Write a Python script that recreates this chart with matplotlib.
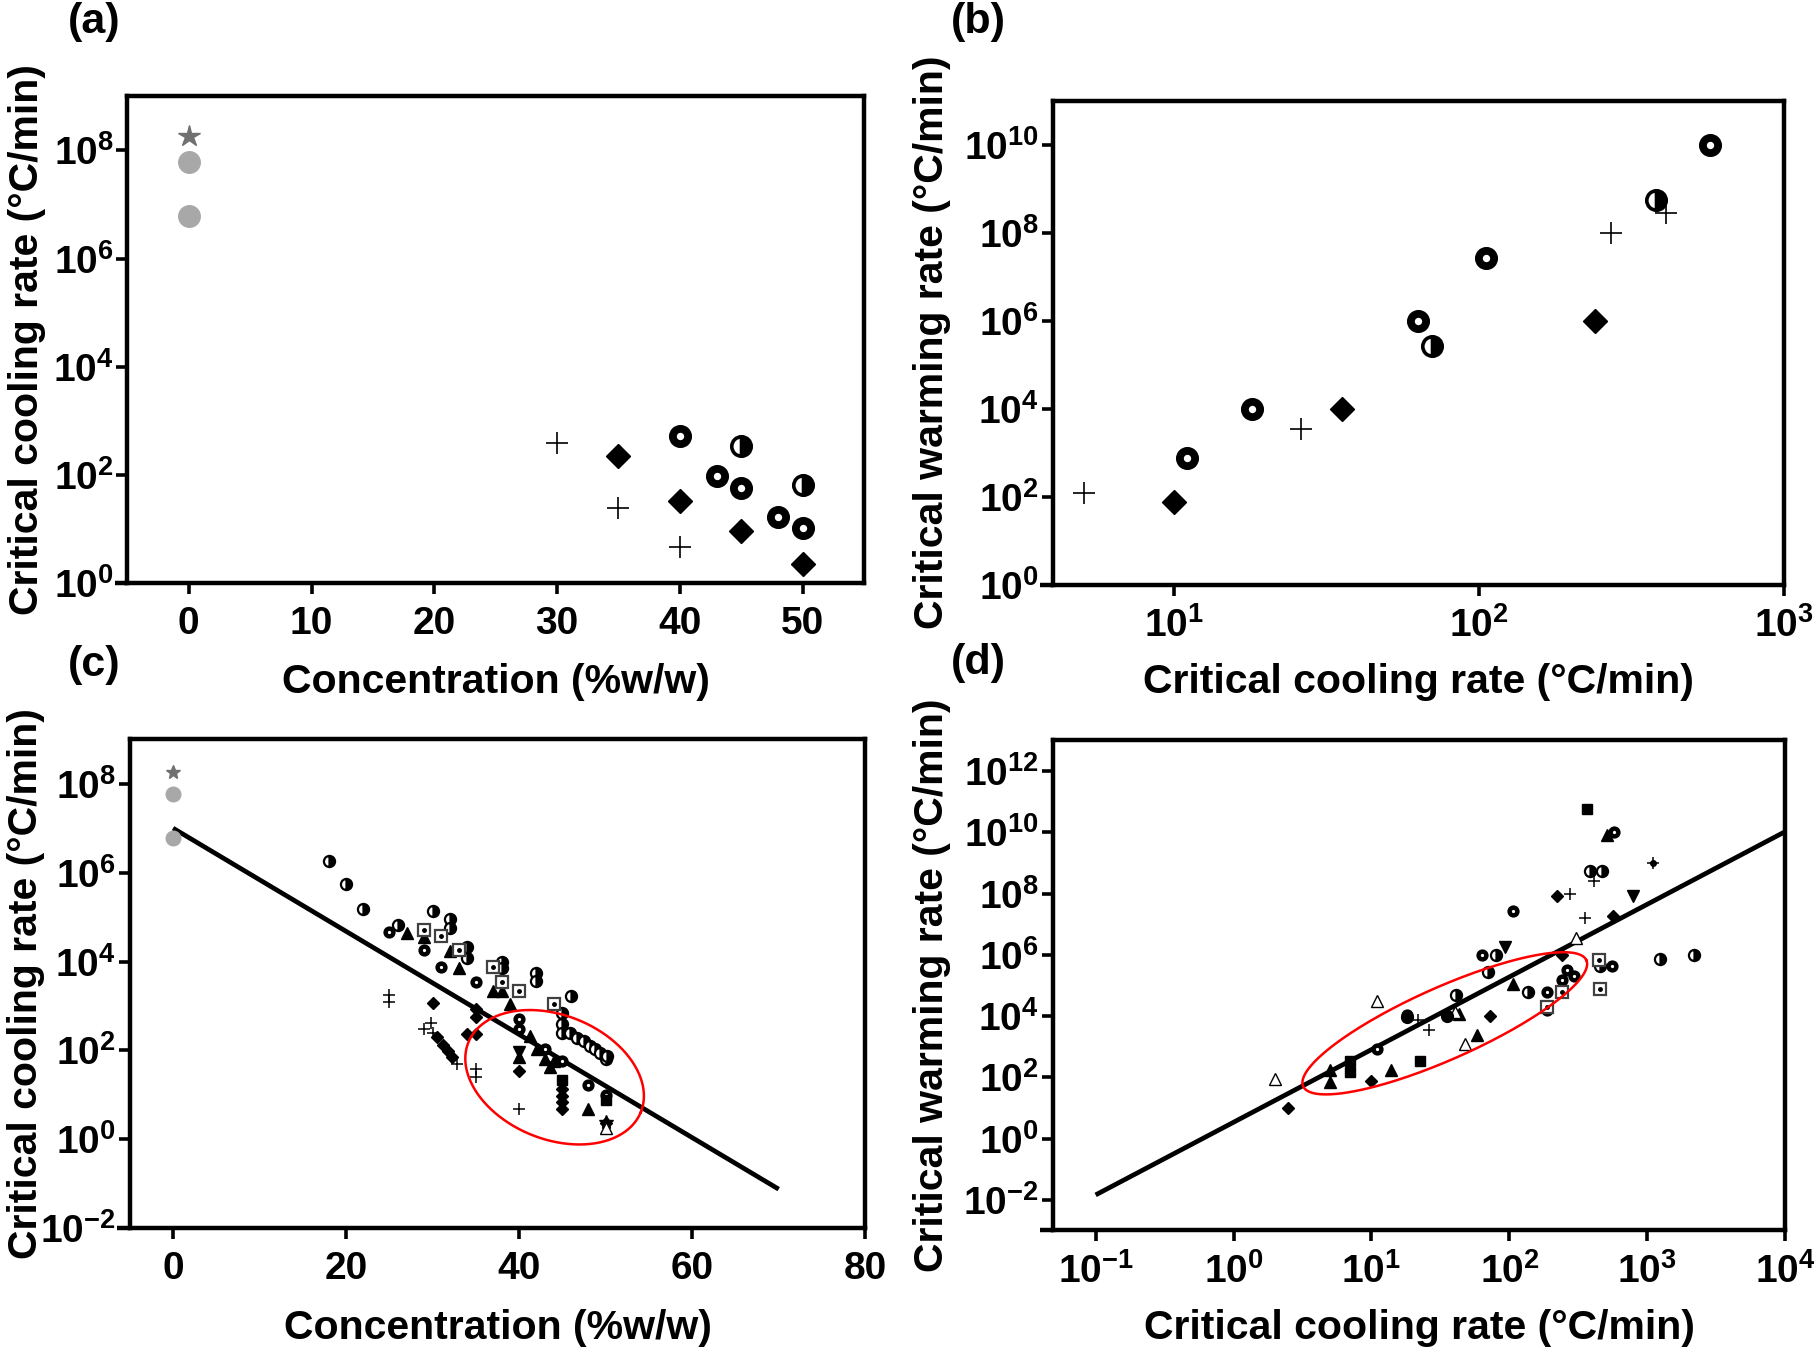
import numpy as np
import matplotlib
matplotlib.use('Agg')
import matplotlib.pyplot as plt
from matplotlib.ticker import FixedLocator, FuncFormatter, NullLocator

plt.rcParams['font.family'] = ['Liberation Sans', 'DejaVu Sans']
plt.rcParams['font.weight'] = 'bold'
plt.rcParams['mathtext.fontset'] = 'custom'
plt.rcParams['mathtext.rm'] = 'Liberation Sans'
plt.rcParams['mathtext.bf'] = 'Liberation Sans:bold'

# ---------------- panel (a): cooling rate vs concentration ----------------
a_gray_star_x, a_gray_star_y = [0], [1.8e8]
a_gray_circ_x, a_gray_circ_y = [0, 0], [6e7, 6e6]
a_plus_x, a_plus_y = [30, 35, 40], [400, 25, 4.7]
a_diam_x, a_diam_y = [35, 40, 45, 50], [230, 33, 9.5, 2.3]
a_ring_x, a_ring_y = [40, 43, 45, 48, 50], [520, 98, 59, 17, 10.5]
a_half_x, a_half_y = [45, 50], [350, 65]

# ---------------- panel (b): warming vs cooling rate ----------------
b_plus_x, b_plus_y = [5.05, 26, 270, 410], [120, 3400, 1.0e8, 2.8e8]
b_diam_x, b_diam_y = [10, 35.5, 240], [75, 1.0e4, 1.0e6]
b_ring_x, b_ring_y = [11, 18, 63, 105, 570], [780, 1.0e4, 1.0e6, 2.7e7, 1.0e10]
b_half_x, b_half_y = [70, 380], [2.7e5, 5.4e8]

# ---------------- panel (c): all cooling rate data ----------------
c_half_x = [18, 20, 22, 26, 30, 32, 32, 34, 34, 38, 38, 42, 42, 46, 45, 45, 50,
            45, 45.9, 46.7, 47.5, 48.2, 48.8, 49.4, 50.2]
c_half_y = [1.8e6, 5.6e5, 1.5e5, 6.8e4, 1.4e5, 9.3e4, 5.6e4, 2.1e4, 1.2e4, 1.0e4, 7.1e3,
            5.6e3, 3.7e3, 1.7e3, 710, 390, 63,
            250, 250, 195, 160, 125, 107, 89, 76]
c_ring_x = [25, 29, 31, 35, 40, 40, 43, 45, 48, 50]
c_ring_y = [4.7e4, 1.8e4, 7.6e3, 3.5e3, 500, 300, 107, 58, 17, 10]
c_tri_x = [27, 29, 32, 33, 37, 38, 39, 41.3, 42.1, 43, 44, 43.6, 40, 48]
c_tri_y = [4.4e4, 3.5e4, 1.7e4, 7.1e3, 2.2e3, 2.2e3, 1.1e3, 210, 107, 63, 58, 42, 71, 4.8]
c_trid_x, c_trid_y = [40], [93]
c_sqdot_x = [29, 31, 33, 37, 38, 40, 44]
c_sqdot_y = [5.0e4, 3.7e4, 1.8e4, 7.4e3, 3.5e3, 2.2e3, 1.1e3]
c_diam_x = [30, 35, 35, 34, 35, 40, 45, 45, 45, 45, 50, 30.5, 31.2, 31.8, 32.3]
c_diam_y = [1.2e3, 870, 560, 230, 230, 35, 13.5, 9.5, 6.8, 4.8, 2.3, 200, 130, 95, 71]
c_plus_x = [25, 25, 29, 29.8, 30.1, 32.8, 35, 35, 40]
c_plus_y = [1.8e3, 1.26e3, 300, 420, 250, 49, 38, 25, 4.9]
c_sq_x, c_sq_y = [45, 50], [22, 7.9]
c_star_x, c_star_y = [50], [2.5]
c_otri_x, c_otri_y = [50], [1.8]
c_fit_x, c_fit_y = [0, 70], [1.0e7, 7.6e-2]
c_ell = (44.1, 25)   # centre of highlighted region

# ---------------- panel (d): all warming vs cooling data ----------------
d_plus_x = [5, 21.8, 26, 273, 351, 408]
d_plus_y = [120, 7.4e3, 3.5e3, 1.0e8, 1.6e7, 2.6e8]
d_ast_x, d_ast_y = [1100], [1.0e9]
d_diam_x = [2.5, 9.9, 72, 221, 240, 560]
d_diam_y = [9.8, 78, 1.0e4, 8.3e7, 1.0e6, 1.9e7]
d_ring_x = [11, 18, 63, 106, 187, 240, 261, 292, 187, 553, 570]
d_ring_y = [830, 1.1e4, 1.0e6, 2.7e7, 6.3e4, 1.5e5, 3.3e5, 2.0e5, 1.6e4, 4.2e5, 1.0e10]
d_half_x = [41, 70, 80, 137, 381, 469, 451, 1240, 2164]
d_half_y = [5.0e4, 2.7e5, 1.0e6, 6.3e4, 5.4e8, 5.4e8, 4.2e5, 7.4e5, 1.0e6]
d_tri_x = [5, 5, 13.8, 43, 58, 107, 510]
d_tri_y = [71, 170, 180, 1.2e4, 2.4e3, 1.1e5, 7.9e9]
d_trid_x, d_trid_y = [93, 794], [1.8e6, 8.3e7]
d_otri_x = [2, 11, 48, 303, 40]
d_otri_y = [85, 3.0e4, 1.2e3, 3.6e6, 1.4e4]
d_sq_x, d_sq_y = [7, 7, 22.5, 366], [150, 350, 340, 5.9e10]
d_sqdot_x, d_sqdot_y = [240, 187, 450, 456], [6.3e4, 2.0e4, 6.6e5, 7.6e4]
d_circ_x, d_circ_y = [18, 35], [9.0e3, 1.0e4]
d_fit_x, d_fit_y = [0.1, 1.0e4], [1.45e-2, 1.05e10]
d_ell = (34, 5.8e3)

STYLE = {
    'plus':  dict(marker='+', color='k'),
    'diam':  dict(marker='D', color='k', mec='k'),
    'ring':  dict(marker='o', mfc='white', mec='k'),
    'half':  dict(marker='o', mfc='k', mec='k', fillstyle='right', markerfacecoloralt='white'),
    'tri':   dict(marker='^', color='k'),
    'trid':  dict(marker='v', color='k'),
    'otri':  dict(marker='^', mfc='white', mec='k', mew=1.0),
    'sq':    dict(marker='s', color='k'),
    'sqdot': dict(marker='s', mfc='white', mec='#404040', mew=1.6),
    'star':  dict(marker='*', color='k'),
    'circ':  dict(marker='o', color='k'),
    'gcirc': dict(marker='o', color='#a8a8a8', mec='#a8a8a8'),
    'gstar': dict(marker='*', color='#707070', mec='#707070'),
}
# (markersize, edge width) for the small panels and the large panels
SIZE_SMALL = {'plus': (9, 1.1), 'diam': (6.5, None), 'ring': (5.6, 3.2), 'half': (8, 1.6),
              'tri': (8, None), 'trid': (8, None), 'otri': (8, None), 'sq': (7.5, None),
              'sqdot': (8, None), 'star': (10, None), 'circ': (8.5, None),
              'gcirc': (10.5, None), 'gstar': (10, None)}
SIZE_BIG = {'plus': (16, 1.2), 'diam': (12, None), 'ring': (11, 5.6), 'half': (14, 2.6),
            'gcirc': (15.5, None), 'gstar': (16, None)}


def draw(ax, kind, xs, ys, big=False):
    st = dict(STYLE[kind])
    ms, mew = (SIZE_BIG if big else SIZE_SMALL)[kind]
    st['ms'] = ms
    if mew is not None:
        st['mew'] = mew
    ax.plot(xs, ys, ls='none', zorder=4, clip_on=False, **st)
    if kind == 'sqdot':
        ax.plot(xs, ys, ls='none', marker='o', ms=2.5, color='k', zorder=5)


def pow10(v, pos):
    e = int(round(np.log10(v)))
    return r'$\mathbf{10}^{%d}$' % e


def style_axes(ax, xlog, xt, yt, xlim, ylim):
    if xlog:
        ax.set_xscale('log')
    ax.set_yscale('log')
    ax.set_xlim(*xlim)
    ax.set_ylim(*ylim)
    ax.xaxis.set_major_locator(FixedLocator(xt))
    ax.yaxis.set_major_locator(FixedLocator(yt))
    ax.xaxis.set_minor_locator(NullLocator())
    ax.yaxis.set_minor_locator(NullLocator())
    ax.yaxis.set_major_formatter(FuncFormatter(pow10))
    if xlog:
        ax.xaxis.set_major_formatter(FuncFormatter(pow10))
    else:
        ax.xaxis.set_major_formatter(FuncFormatter(lambda v, p: '%d' % v))
    for sp in ax.spines.values():
        sp.set_linewidth(3.2)
    ax.tick_params(axis='both', direction='out', length=8, width=2.6, labelsize=28)
    ax.tick_params(axis='x', pad=8)
    ax.tick_params(axis='y', pad=2)
    # x axis line runs a little past the y axis, as in the original
    ax.plot([-0.017, 0], [0, 0], transform=ax.transAxes, clip_on=False,
            color='k', lw=3.2, solid_capstyle='butt')


def add_ellipse(ax, centre, a_px, b_px, ang):
    fig = ax.figure
    bb = ax.get_position()
    W = bb.width * fig.get_figwidth() * fig.dpi
    H = bb.height * fig.get_figheight() * fig.dpi
    cx, cy = ax.transAxes.inverted().transform(ax.transData.transform(centre))
    t = np.linspace(0, 2 * np.pi, 300)
    th = np.radians(ang)
    dx = a_px * np.cos(t) * np.cos(th) - b_px * np.sin(t) * np.sin(th)
    dy = a_px * np.cos(t) * np.sin(th) + b_px * np.sin(t) * np.cos(th)
    ax.plot(cx + dx / W, cy + dy / H, transform=ax.transAxes, color='red', lw=1.8, zorder=6)


fig = plt.figure(figsize=(18.15, 13.51), dpi=100)
axa = fig.add_axes([0.0702, 0.5681, 0.4058, 0.3608])
axb = fig.add_axes([0.5801, 0.5671, 0.4028, 0.3585])
axc = fig.add_axes([0.0715, 0.0908, 0.4052, 0.3620])
axd = fig.add_axes([0.5801, 0.0892, 0.4035, 0.3628])

lbl_cool = 'Critical cooling rate (°C/min)'
lbl_warm = 'Critical warming rate (°C/min)'
lbl_conc = 'Concentration (%w/w)'

# (a)
style_axes(axa, False, [0, 10, 20, 30, 40, 50], [1, 1e2, 1e4, 1e6, 1e8], (-5, 55), (1, 1e9))
draw(axa, 'gstar', a_gray_star_x, a_gray_star_y, True)
draw(axa, 'gcirc', a_gray_circ_x, a_gray_circ_y, True)
draw(axa, 'plus', a_plus_x, a_plus_y, True)
draw(axa, 'diam', a_diam_x, a_diam_y, True)
draw(axa, 'ring', a_ring_x, a_ring_y, True)
draw(axa, 'half', a_half_x, a_half_y, True)

# (b)
style_axes(axb, True, [10, 100, 1000], [1, 1e2, 1e4, 1e6, 1e8, 1e10], (4, 1000), (1, 1e11))
draw(axb, 'plus', b_plus_x, b_plus_y, True)
draw(axb, 'diam', b_diam_x, b_diam_y, True)
draw(axb, 'ring', b_ring_x, b_ring_y, True)
draw(axb, 'half', b_half_x, b_half_y, True)

# (c)
style_axes(axc, False, [0, 20, 40, 60, 80], [1e-2, 1, 1e2, 1e4, 1e6, 1e8], (-5, 80), (1e-2, 1e9))
axc.plot(c_fit_x, c_fit_y, color='k', lw=3.4, zorder=3, solid_capstyle='butt')
draw(axc, 'gstar', a_gray_star_x, a_gray_star_y)
draw(axc, 'gcirc', a_gray_circ_x, a_gray_circ_y)
draw(axc, 'half', c_half_x, c_half_y)
draw(axc, 'ring', c_ring_x, c_ring_y)
draw(axc, 'tri', c_tri_x, c_tri_y)
draw(axc, 'trid', c_trid_x, c_trid_y)
draw(axc, 'sqdot', c_sqdot_x, c_sqdot_y)
draw(axc, 'diam', c_diam_x, c_diam_y)
draw(axc, 'plus', c_plus_x, c_plus_y)
draw(axc, 'sq', c_sq_x, c_sq_y)
draw(axc, 'star', c_star_x, c_star_y)
draw(axc, 'otri', c_otri_x, c_otri_y)
add_ellipse(axc, c_ell, 93, 62, -22)

# (d)
style_axes(axd, True, [0.1, 1, 10, 100, 1000, 1e4],
           [1e-2, 1, 1e2, 1e4, 1e6, 1e8, 1e10, 1e12], (10 ** -1.31, 1e4), (1e-3, 1e13))
axd.plot(d_fit_x, d_fit_y, color='k', lw=3.4, zorder=3, solid_capstyle='butt')
draw(axd, 'plus', d_plus_x, d_plus_y)
draw(axd, 'plus', d_ast_x, d_ast_y)
axd.plot(d_ast_x, d_ast_y, ls='none', marker='o', ms=4, color='k', zorder=5)
draw(axd, 'diam', d_diam_x, d_diam_y)
draw(axd, 'ring', d_ring_x, d_ring_y)
draw(axd, 'half', d_half_x, d_half_y)
draw(axd, 'tri', d_tri_x, d_tri_y)
draw(axd, 'trid', d_trid_x, d_trid_y)
draw(axd, 'otri', d_otri_x, d_otri_y)
draw(axd, 'sq', d_sq_x, d_sq_y)
draw(axd, 'sqdot', d_sqdot_x, d_sqdot_y)
draw(axd, 'circ', d_circ_x, d_circ_y)
add_ellipse(axd, d_ell, 155, 36, 24)

# axis labels
for ax, xl, yl, xly, ylx in [(axa, lbl_conc, lbl_cool, -0.202, -0.136),
                             (axb, lbl_cool, lbl_warm, -0.201, -0.165),
                             (axc, lbl_conc, lbl_cool, -0.203, -0.141),
                             (axd, lbl_cool, lbl_warm, -0.198, -0.165)]:
    ax.set_xlabel(xl, fontsize=29.5, fontweight='bold')
    ax.set_ylabel(yl, fontsize=29.5, fontweight='bold')
    ax.xaxis.label.set_va('center')
    ax.yaxis.label.set_va('center')
    ax.xaxis.set_label_coords(0.5, xly)
    ax.yaxis.set_label_coords(ylx, 0.5)

for txt, x, y in [('(a)', 0.052, 0.984), ('(b)', 0.539, 0.984),
                  ('(c)', 0.052, 0.508), ('(d)', 0.539, 0.509)]:
    fig.text(x, y, txt, fontsize=31, fontweight='bold', ha='center', va='center')

fig.savefig('out.png', dpi=100)
